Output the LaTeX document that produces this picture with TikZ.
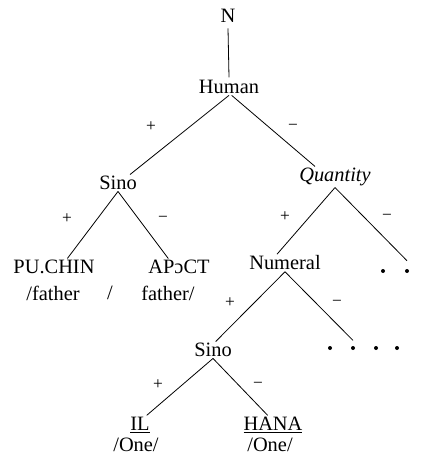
\documentclass[tikz,border=0pt]{standalone}
\usepackage{fontspec}
\setmainfont{Liberation Serif}
\begin{document}
\begin{tikzpicture}[x=0.75pt,y=-0.75pt,
  word/.style={font=\fontsize{15.3}{17}\selectfont, inner sep=1pt},
  gloss/.style={font=\fontsize{15.3}{17}\selectfont, inner sep=1pt},
  sgn/.style={font=\fontsize{13}{14}\selectfont, inner sep=0pt},
  dot/.style={circle, fill=black, inner sep=0pt, minimum size=3pt},
  br/.style={line width=0.6pt}]
\useasboundingbox (0,0) rectangle (424,456);
% nodes
\node[word] (N) at (228,16) {N};
\node[word] (Human) at (229,87) {Human};
\node[word] (Sino1) at (118,183) {Sino};
\node[word] (Quant) at (335,177) {\itshape Quantity};
\node[word] (PU) at (54,267) {PU.CHIN};
\node[word] (AP) at (179,267) {APɔCT};
\node[gloss] (f1) at (53,293) {/father};
\node[gloss] (fs) at (110,293) {/};
\node[gloss] (f2) at (168,293) {father/};
\node[word] (Num) at (285,263) {Numeral};
\node[dot] (qa) at (383,271) {};
\node[dot] (qb) at (407,271) {};
\node[word] (Sino2) at (213,350) {Sino};
\node[dot] (na) at (330,348) {};
\node[dot] (nb) at (353,348) {};
\node[dot] (nc) at (376,348) {};
\node[dot] (nd) at (397,348) {};
\node[word] (IL) at (140,425) {\underline{IL}};
\node[gloss] (One1) at (136,445) {/One/};
\node[word] (HANA) at (273,425) {\underline{HANA}};
\node[gloss] (One2) at (270,445) {/One/};
% signs
\node[sgn] (s1) at (151,127) {+};
\node[sgn] (s2) at (293,127) {−};
\node[sgn] (s3) at (67,219) {+};
\node[sgn] (s4) at (163,219) {−};
\node[sgn] (s5) at (285,217) {+};
\node[sgn] (s6) at (387,217) {−};
\node[sgn] (s7) at (230,303) {+};
\node[sgn] (s8) at (337,303) {−};
\node[sgn] (s9) at (158,385) {+};
\node[sgn] (s10) at (258,385) {−};
% branches
\draw[br] ([yshift=-3pt]N.south) -- ([yshift=1pt]Human.north);
\draw[br] (Human.south) -- ([xshift=9pt]Sino1.north);
\draw[br] ([xshift=2pt]Human.south) -- ([xshift=-15pt]Quant.north);
\draw[br] (Sino1.south) -- ([xshift=10pt]PU.north);
\draw[br] (Sino1.south) -- ([xshift=-8pt]AP.north);
\draw[br] (Quant.south) -- ([xshift=-6pt]Num.north);
\draw[br] (Quant.south) -- ([yshift=6pt]qb.north);
\draw[br] (Num.south) -- ([xshift=2pt]Sino2.north);
\draw[br] (Num.south) -- ([yshift=4pt]nb.north);
\draw[br] (Sino2.south) -- ([xshift=5pt]IL.north);
\draw[br] (Sino2.south) -- ([xshift=-4pt]HANA.north);
\end{tikzpicture}
\end{document}
